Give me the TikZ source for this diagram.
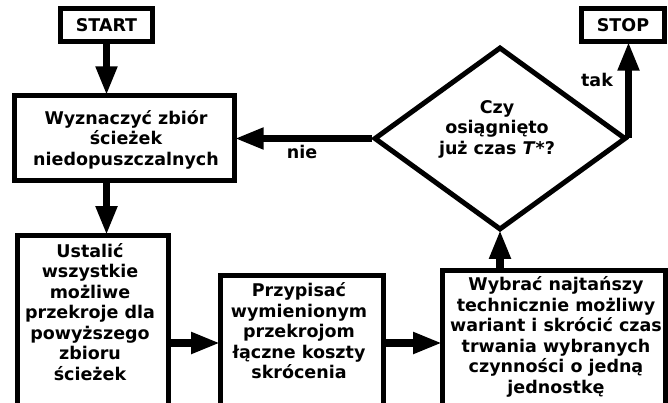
\documentclass[tikz,border=0pt]{standalone}
\usepackage{fontspec}
\setmainfont{DejaVu Sans}
\usetikzlibrary{arrows.meta,shapes.geometric}
\begin{document}
\begin{tikzpicture}[x=1pt,y=-1pt,
  box/.style={draw=black,line width=5.5pt,rectangle,inner sep=0pt},
  txt/.style={font=\fontsize{17.5}{20.5}\selectfont\bfseries,align=center,inner sep=0pt},
  arr/.style={line width=7.5pt,-{Triangle[length=29pt,width=20pt]},shorten >=-2.7pt}]
\useasboundingbox (0,0) rectangle (668,403);
% boxes
\node[box,minimum width=92pt,minimum height=33pt] (start) at (106.5,25) {};
\node[box,minimum width=83pt,minimum height=33pt] (stop) at (623,25) {};
\node[box,minimum width=220pt,minimum height=85pt] (b1) at (124.5,138) {};
\node[box,minimum width=151pt,minimum height=180pt,anchor=north west] (b2) at (14.5,232.5) {};
\node[box,minimum width=163pt,minimum height=140pt,anchor=north west] (b3) at (217.5,272.5) {};
\node[box,minimum width=223pt,minimum height=145pt,anchor=north west] (b4) at (439.5,267.5) {};
\node[draw=black,line width=5pt,diamond,inner sep=0pt,minimum width=252pt,minimum height=183pt] (d) at (500,138.5) {};
% texts
\node[txt] (tstart) at (106.5,25) {START};
\node[txt] (tstop) at (623,25) {STOP};
\node[txt] (t1) at (126,139.5) {Wyznaczyć zbiór\\ścieżek\\niedopuszczalnych};
\node[txt] (t2) at (90,312) {Ustalić\\wszystkie\\możliwe\\przekroje dla\\powyższego\\zbioru\\ścieżek};
\node[txt] (t3) at (299,331) {Przypisać\\wymienionym\\przekrojom\\łączne koszty\\skrócenia};
\node[txt] (t4) at (556,337) {Wybrać najtańszy\\technicznie możliwy\\wariant i skrócić czas\\trwania wybranych\\czynności o jedną\\jednostkę};
\node[txt] (td) at (497,129) {Czy\\osiągnięto\\już czas \textit{T}*?};
\node[txt] (nie) at (302,152) {nie};
\node[txt] (tak) at (597,80) {tak};
% connectors
\draw[arr] (start.south) -- (b1.north -| start.south);
\draw[arr] (b1.south -| start.south) -- (b2.north -| start.south);
\draw[arr] (b2.east |- 0,343) -- (b3.west |- 0,343);
\draw[arr] (b3.east |- 0,343) -- (b4.west |- 0,343);
\draw[arr] (b4.north -| d.south) -- (d.south);
\draw[arr] (d.west) -- (d.west -| b1.east);
\draw[arr] (d.east) -- (d.east |- stop.south);
\end{tikzpicture}
\end{document}
